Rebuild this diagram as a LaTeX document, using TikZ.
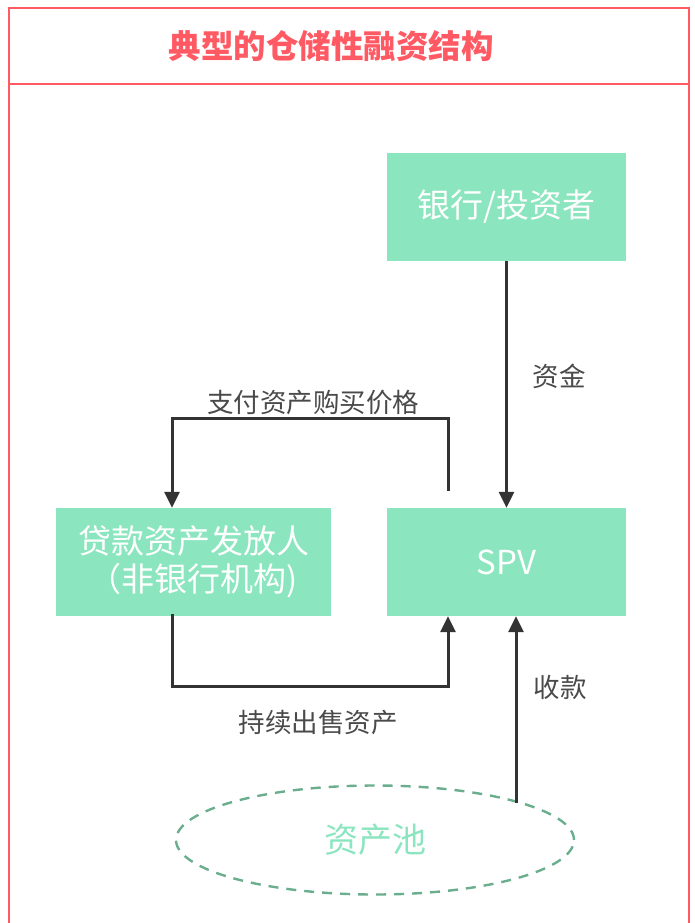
\documentclass[tikz,border=0pt]{standalone}
\usepackage{fontspec}
\setmainfont{Noto Sans CJK SC}
\usetikzlibrary{shapes.geometric,arrows.meta}
\definecolor{frame}{HTML}{FF5A64}
\definecolor{boxfill}{HTML}{8BE5BF}
\definecolor{pooldash}{HTML}{6AAE8E}
\definecolor{linec}{HTML}{333333}
\definecolor{labelc}{HTML}{4A4A4A}
\tikzset{
  box/.style={fill=boxfill, draw=none, text=white, minimum width=239pt, minimum height=108pt, font=\fontsize{33}{38}\selectfont, align=center, inner sep=0pt},
  conn/.style={draw=linec, line width=3pt, -{Triangle[length=16pt,width=15pt]}},
  lbl/.style={text=labelc, font=\fontsize{26.5}{30}\selectfont, inner sep=0pt},
}
\begin{document}
\begin{tikzpicture}[x=1pt,y=-1pt]
\useasboundingbox (0,0) rectangle (694,923);
% frame
\draw[frame, line width=2.4pt] (9,940) -- (9,8) -- (689,8) -- (689,940);
\draw[frame, line width=2.4pt] (9,84) -- (689,84);
\node[text=frame, font=\fontsize{32.5}{36}\selectfont\bfseries, inner sep=0pt] (title) at (331,46) {典型的仓储性融资结构};
% boxes
\node[box] (bank) at (506.5,207) {银行/投资者};
\node[box] (spv) at (506.5,562) {SPV};
\node[box, minimum width=275pt] (loan) at (193.5,562) {贷款资产发放人\\（非银行机构)};
\node[ellipse, draw=pooldash, dashed, dash pattern=on 10pt off 8pt, line width=2.4pt, minimum width=398pt, minimum height=109pt, text=boxfill, font=\fontsize{34}{38}\selectfont, inner sep=0pt] (pool) at (375,840) {资产池};
% connectors
\draw[conn] (bank.south) -- (spv.north);
\node[lbl] (l1) at (559,376) {资金};
\coordinate (payStart) at (448,491);
\draw[conn] (payStart) |- (172,418) -- (loan.north -| 172,0);
\node[lbl] (l2) at (313,403) {支付资产购买价格};
\coordinate (sellStart) at (172,614);
\draw[conn] (sellStart) |- (448,686) -- (spv.south -| 448,0);
\node[lbl] (l3) at (318,722) {持续出售资产};
\coordinate (poolTop) at (516,803);
\draw[conn] (poolTop) -- (spv.south -| poolTop);
\node[lbl] (l4) at (560,687) {收款};
\end{tikzpicture}
\end{document}
